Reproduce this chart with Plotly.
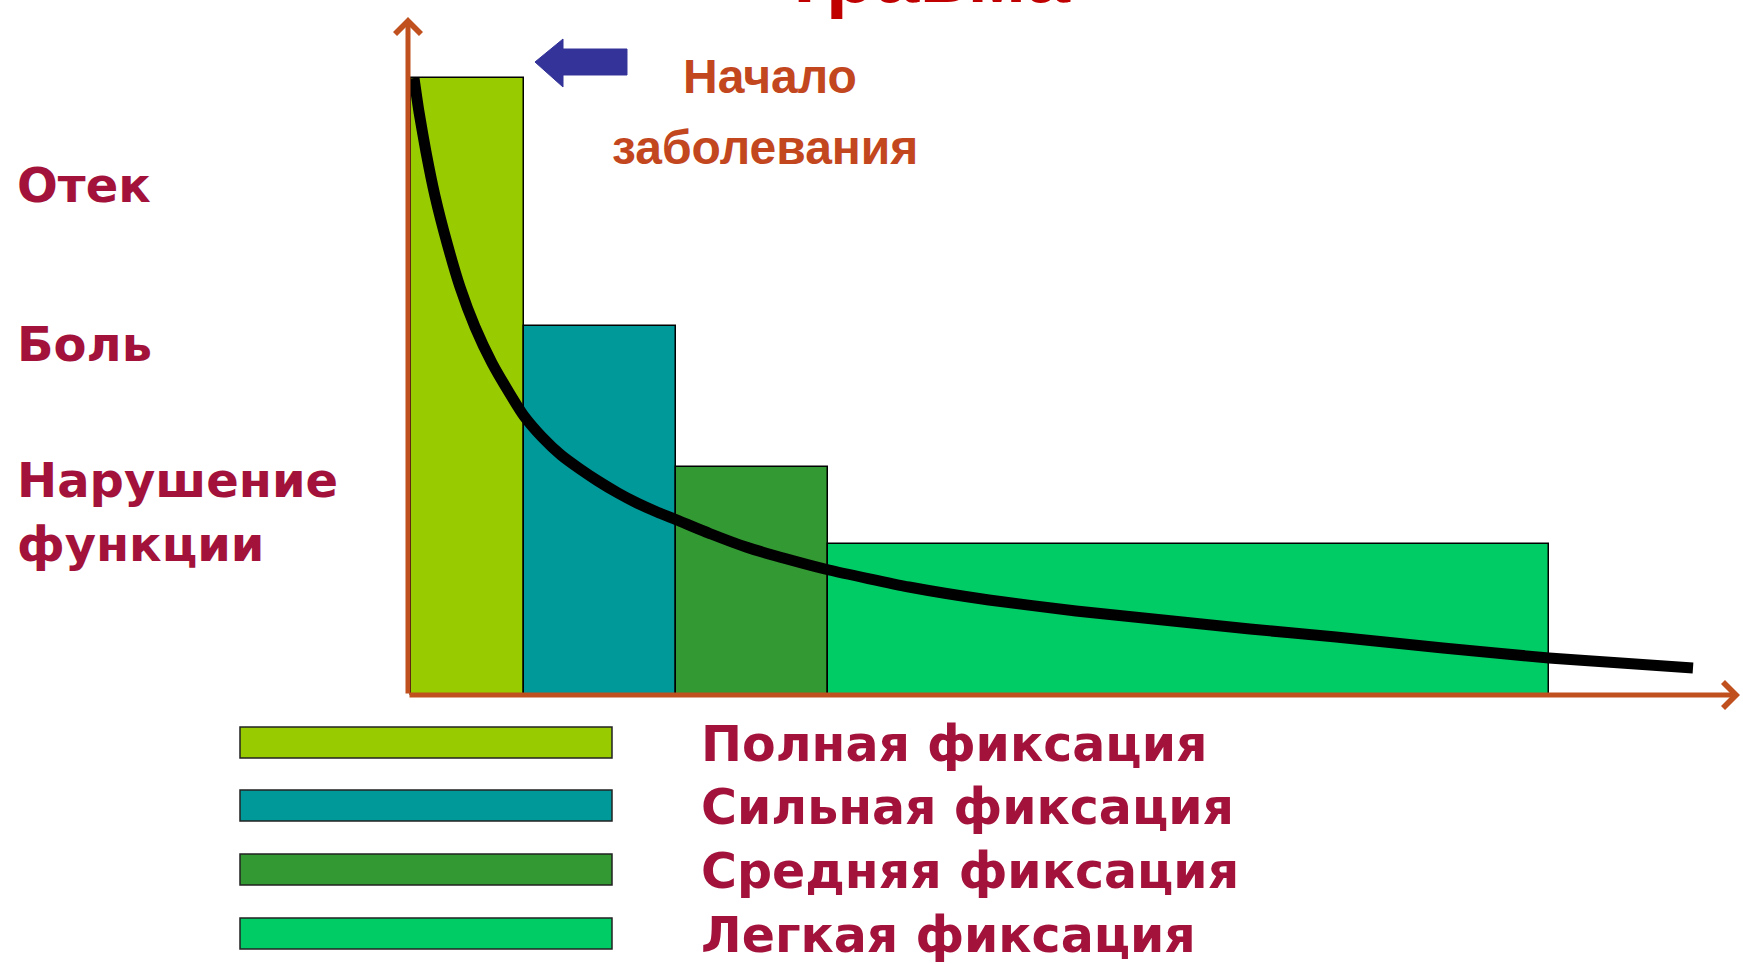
import plotly.graph_objects as go

# ---------------- data ----------------
stage_names = ["Полная фиксация", "Сильная фиксация", "Средняя фиксация", "Легкая фиксация"]
stage_edges = [0.3, 11.6, 26.8, 42.0, 114.1]          # time axis, arbitrary units
stage_heights = [61.7, 36.9, 22.8, 15.1]               # intensity, arbitrary units
stage_colors = ["#99CC00", "#009999", "#339933", "#00CC66"]

curve_x = [0.6, 1.1, 1.8, 2.7, 3.9, 5.2, 6.7, 8.4, 10.2, 11.6, 13.4, 15.3, 17.2, 19.0,
           21.0, 22.9, 24.9, 26.9, 30.3, 33.8, 37.9, 42.1, 50.1, 58.1, 66.8, 75.5,
           84.2, 92.8, 103.5, 114.1, 121.3, 128.5]
curve_y = [61.7, 58.3, 54.3, 49.9, 45.2, 40.8, 36.8, 33.2, 30.1, 27.9, 25.8, 24.0, 22.6, 21.4,
           20.2, 19.2, 18.3, 17.5, 16.1, 14.8, 13.6, 12.5, 10.8, 9.5, 8.4, 7.5,
           6.6, 5.8, 4.7, 3.7, 3.2, 2.7]

symptom_labels = ["Отек", "Боль", "Нарушение", "функции"]
onset_label = ["Начало", "заболевания"]
title_text = "Травма"

W, H = 1743, 964
X_RANGE = [-40.8, 133.5]
Y_RANGE = [-26.9, 69.5]
X_END, Y_END = 133.2, 67.8

def px(xp):
    return xp / W

def py(yp):
    return 1 - yp / H

centers = [(a + b) / 2 for a, b in zip(stage_edges[:-1], stage_edges[1:])]
widths = [b - a for a, b in zip(stage_edges[:-1], stage_edges[1:])]

fig = go.Figure()
fig.add_trace(go.Bar(
    x=centers, y=stage_heights, width=widths, base=0,
    marker=dict(color=stage_colors, line=dict(color="#000000", width=1.5)),
    showlegend=False, hoverinfo="skip",
))
fig.add_trace(go.Scatter(
    x=curve_x, y=curve_y, mode="lines",
    line=dict(color="#000000", width=11, shape="spline", smoothing=0.5),
    showlegend=False, hoverinfo="skip",
))

AXIS_COLOR = "#C0501E"
LABEL_COLOR = "#A3123A"
annotations = [
    dict(x=X_END, y=0, ax=0, ay=0, xref="x", yref="y", axref="x", ayref="y",
         text="", showarrow=True, arrowhead=4, arrowsize=1, arrowwidth=5, arrowcolor=AXIS_COLOR),
    dict(x=0, y=Y_END, ax=0, ay=0, xref="x", yref="y", axref="x", ayref="y",
         text="", showarrow=True, arrowhead=4, arrowsize=1, arrowwidth=5, arrowcolor=AXIS_COLOR),
]

label_font = dict(family="DejaVu Sans", size=48, color=LABEL_COLOR, weight="bold")
for txt, yc in zip(symptom_labels, [185, 344, 480, 544]):
    annotations.append(dict(x=px(15), y=py(yc), xref="paper", yref="paper", text=txt,
                            showarrow=False, xanchor="left", yanchor="middle", font=label_font))

onset_font = dict(family="Liberation Sans", size=48, color="#C2461E", weight="bold")
annotations.append(dict(x=px(681), y=py(77), xref="paper", yref="paper", text=onset_label[0],
                        showarrow=False, xanchor="left", yanchor="middle", font=onset_font))
annotations.append(dict(x=px(610), y=py(147), xref="paper", yref="paper", text=onset_label[1],
                        showarrow=False, xanchor="left", yanchor="middle", font=onset_font))

annotations.append(dict(x=px(925), y=py(-26), xref="paper", yref="paper", text=title_text,
                        showarrow=False, xanchor="center", yanchor="middle",
                        font=dict(family="Liberation Sans", size=80, color="#C00000", weight="bold")))

legend_font = dict(family="DejaVu Sans", size=49, color=LABEL_COLOR, weight="bold")
shapes = []
swatch_tops = [727, 790, 854, 918]
for name, col, top in zip(stage_names, stage_colors, swatch_tops):
    shapes.append(dict(type="rect", xref="paper", yref="paper",
                       x0=px(240), x1=px(612), y0=py(top + 31), y1=py(top),
                       fillcolor=col, line=dict(color="#222222", width=1.5)))
    annotations.append(dict(x=px(699), y=py(top + 17), xref="paper", yref="paper", text=name,
                            showarrow=False, xanchor="left", yanchor="middle", font=legend_font))

arrow_pts = [(535, 62), (563, 39), (563, 49), (627, 49), (627, 75), (563, 75), (563, 87)]
path = "M " + " L ".join(f"{px(a):.5f},{py(b):.5f}" for a, b in arrow_pts) + " Z"
shapes.append(dict(type="path", xref="paper", yref="paper", path=path,
                   fillcolor="#333399", line=dict(color="#333399", width=1)))

fig.update_layout(
    width=W, height=H, margin=dict(l=0, r=0, t=0, b=0),
    paper_bgcolor="white", plot_bgcolor="white",
    xaxis=dict(range=X_RANGE, visible=False, fixedrange=True),
    yaxis=dict(range=Y_RANGE, visible=False, fixedrange=True),
    annotations=annotations, shapes=shapes, bargap=0,
)

fig.write_html("out.html")
